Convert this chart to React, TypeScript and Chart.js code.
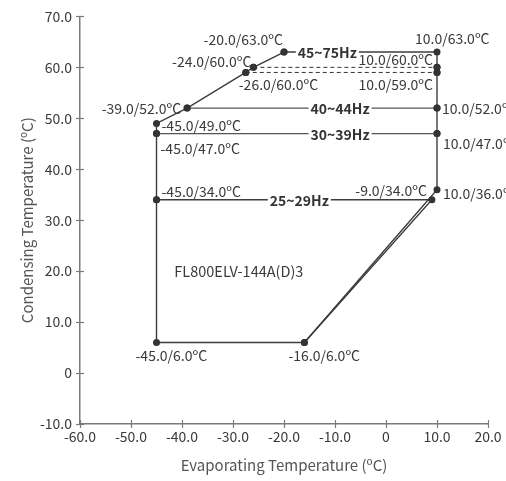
import React, { useEffect, useRef } from "react";
import { Chart, registerables } from "chart.js";

Chart.register(...registerables);

// ---- data ----
const xMin = -60;
const xMax = 20;
const yMin = -10;
const yMax = 70;
const tickStep = 10;

// operating envelope outline
const boundaryX = [-20, 10, 10, 10, 10, 10, 10, -16, -45, -45, -45, -45, -39, -27.5, -26, -20];
const boundaryY = [63, 63, 60, 59, 52, 47, 36, 6, 6, 34, 47, 49, 52, 59, 60, 63];

// frequency band separators
const band40X = [-39, 10];
const band40Y = [52, 52];
const band30X = [-45, 10];
const band30Y = [47, 47];
const band25X = [-45, 9, -16];
const band25Y = [34, 34, 6];
const dash60X = [-26, 10];
const dash60Y = [60, 60];
const dash59X = [-27.5, 10];
const dash59Y = [59, 59];

const bandNames = ["45~75Hz", "40~44Hz", "30~39Hz", "25~29Hz"];
const bandX = [-11.5, -9, -9, -17];
const bandY = [63, 52, 47, 34];

const pointTexts = [
  "-20.0/63.0ºC",
  "10.0/63.0ºC",
  "-24.0/60.0ºC",
  "10.0/60.0ºC",
  "-26.0/60.0ºC",
  "10.0/59.0ºC",
  "-39.0/52.0ºC",
  "10.0/52.0ºC",
  "-45.0/49.0ºC",
  "-45.0/47.0ºC",
  "10.0/47.0ºC",
  "-45.0/34.0ºC",
  "-9.0/34.0ºC",
  "10.0/36.0ºC",
  "-45.0/6.0ºC",
  "-16.0/6.0ºC",
];
const pointTextX = [-20, 10, -26, 10, -27.5, 10, -39, 10, -45, -45, 10, -45, 9, 10, -45, -16];
const pointTextY = [63, 63, 60, 60, 59, 59, 52, 52, 49, 47, 47, 34, 34, 36, 6, 6];

const modelName = "FL800ELV-144A(D)3";
const modelX = -41.5;
const modelY = 20;

const xTitle = "Evaporating Temperature (ºC)";
const yTitle = "Condensing Temperature (ºC)";

// ---- styles (placement of annotation texts, in pixels) ----
const labelPlacement: { align: CanvasTextAlign; dx: number; dy: number }[] = [
  { align: "right", dx: -1, dy: -12 },
  { align: "left", dx: -22, dy: -13 },
  { align: "right", dx: -2, dy: -6 },
  { align: "right", dx: -4, dy: -8 },
  { align: "left", dx: -7, dy: 12 },
  { align: "right", dx: -4, dy: 12 },
  { align: "right", dx: -6, dy: 1 },
  { align: "left", dx: 5, dy: 1 },
  { align: "left", dx: 5, dy: 2 },
  { align: "left", dx: 4, dy: 15 },
  { align: "left", dx: 6, dy: 10 },
  { align: "left", dx: 5, dy: -8 },
  { align: "right", dx: -5, dy: -9 },
  { align: "left", dx: 6, dy: 4 },
  { align: "left", dx: -21, dy: 13 },
  { align: "left", dx: -16, dy: 13 },
];

const FONT = "'Noto Sans CJK SC', 'Noto Sans', sans-serif";
const LINE = "#3d3d3d";
const AXIS = "#7a7a7a";
const TEXT = "#3a3a3a";

const toPts = (xs: number[], ys: number[]) => xs.map((x, i) => ({ x, y: ys[i] }));

const annotationPlugin = {
  id: "annotations",
  afterDraw(chart: any) {
    const { ctx, scales } = chart;
    const xs = scales.x;
    const ys = scales.y;
    ctx.save();
    // axis tick marks crossing the axes
    ctx.strokeStyle = AXIS;
    ctx.lineWidth = 1.2;
    const bottom = ys.getPixelForValue(yMin);
    const left = xs.getPixelForValue(xMin);
    for (let v = xMin; v <= xMax; v += tickStep) {
      const px = Math.round(xs.getPixelForValue(v)) + 0.5;
      ctx.beginPath();
      ctx.moveTo(px, bottom - 4);
      ctx.lineTo(px, bottom + 4);
      ctx.stroke();
    }
    for (let v = yMin; v <= yMax; v += tickStep) {
      const py = Math.round(ys.getPixelForValue(v)) + 0.5;
      ctx.beginPath();
      ctx.moveTo(left - 4, py);
      ctx.lineTo(left + 4, py);
      ctx.stroke();
    }

    // point labels
    ctx.fillStyle = TEXT;
    ctx.font = `14px ${FONT}`;
    ctx.textBaseline = "middle";
    pointTexts.forEach((t, i) => {
      const p = labelPlacement[i];
      const px = xs.getPixelForValue(pointTextX[i]);
      const py = ys.getPixelForValue(pointTextY[i]);
      ctx.textAlign = p.align;
      ctx.fillText(t, px + p.dx, py + p.dy);
    });

    // band labels
    ctx.font = `bold 14px ${FONT}`;
    ctx.textAlign = "center";
    bandNames.forEach((t, i) => {
      const px = xs.getPixelForValue(bandX[i]);
      const py = ys.getPixelForValue(bandY[i]);
      const w = ctx.measureText(t).width;
      ctx.fillStyle = "#ffffff";
      ctx.fillRect(px - w / 2 - 2, py - 8, w + 4, 16);
      ctx.fillStyle = "#333333";
      ctx.fillText(t, px, py + 1);
    });

    // model name
    ctx.font = `14.5px ${FONT}`;
    ctx.textAlign = "left";
    ctx.fillStyle = TEXT;
    ctx.fillText(modelName, xs.getPixelForValue(modelX), ys.getPixelForValue(modelY));
    ctx.restore();
  },
};

export default function App() {
  const ref = useRef<HTMLCanvasElement | null>(null);

  useEffect(() => {
    if (!ref.current) return;
    const solid = (data: any[], color = LINE) => ({
      data,
      showLine: true,
      borderColor: color,
      borderWidth: 1.4,
      pointRadius: 3.5,
      pointBackgroundColor: "#333333",
      pointBorderWidth: 0,
      pointHoverRadius: 3.5,
      tension: 0,
    });
    const dashed = (data: any[]) => ({
      data,
      showLine: true,
      borderColor: "#333333",
      borderWidth: 1,
      borderDash: [4, 3],
      pointRadius: 3.5,
      pointBackgroundColor: "#333333",
      pointBorderWidth: 0,
      tension: 0,
    });
    const chart = new Chart(ref.current, {
      type: "scatter",
      data: {
        datasets: [
          dashed(toPts(dash60X, dash60Y)),
          dashed(toPts(dash59X, dash59Y)),
          solid(toPts(band40X, band40Y), "#555555"),
          solid(toPts(band30X, band30Y), "#555555"),
          solid(toPts(band25X, band25Y)),
          solid(toPts(boundaryX, boundaryY)),
        ] as any,
      },
      options: {
        animation: false,
        responsive: true,
        maintainAspectRatio: false,
        layout: { padding: { left: 0, right: 18, top: 15, bottom: 0 } },
        plugins: {
          legend: { display: false },
          tooltip: { enabled: false },
        },
        scales: {
          x: {
            type: "linear",
            min: xMin,
            max: xMax,
            afterFit: (s: any) => {
              s.height = 57;
            },
            grid: { display: false, drawTicks: false },
            border: { display: true, color: AXIS, width: 1.5 },
            ticks: {
              stepSize: tickStep,
              padding: 4,
              color: TEXT,
              font: { family: FONT, size: 14 },
              maxRotation: 0,
              callback: (v: any) => (Number(v) === 0 ? "0" : Number(v).toFixed(1)),
            },
            title: {
              display: true,
              text: xTitle,
              color: "#555555",
              font: { family: FONT, size: 15 },
              padding: { top: 0, bottom: 7 },
            },
          },
          y: {
            type: "linear",
            min: yMin,
            max: yMax,
            afterFit: (s: any) => {
              s.width = 80;
            },
            grid: { display: false, drawTicks: false },
            border: { display: true, color: AXIS, width: 1.5 },
            ticks: {
              stepSize: tickStep,
              padding: 8,
              color: TEXT,
              font: { family: FONT, size: 14 },
              callback: (v: any) => (Number(v) === 0 ? "0" : Number(v).toFixed(1)),
            },
            title: {
              display: true,
              text: yTitle,
              color: "#555555",
              font: { family: FONT, size: 15 },
              padding: { top: 18, bottom: 0 },
            },
          },
        },
      },
      plugins: [annotationPlugin],
    });
    return () => chart.destroy();
  }, []);

  return (
    <div style={{ position: "absolute", left: 0, top: 0, width: 506, height: 481, background: "#fff" }}>
      <canvas ref={ref} />
    </div>
  );
}
